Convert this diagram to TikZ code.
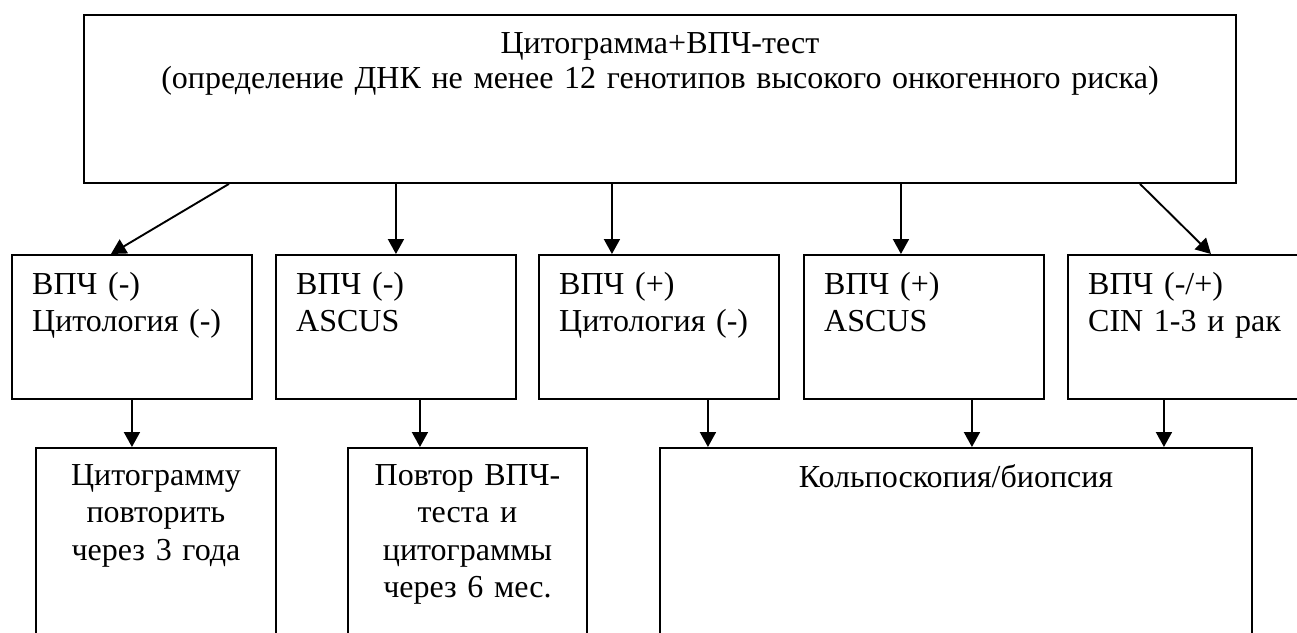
\documentclass[tikz,border=0pt]{standalone}
\usepackage{fontspec}
\setmainfont{Liberation Serif}
\usetikzlibrary{arrows.meta}
\begin{document}
\begin{tikzpicture}[x=1pt,y=-1pt,
  box/.style={draw, line width=1.9pt, rectangle, inner sep=0pt, anchor=north west},
  midbox/.style={box, minimum width=240pt, minimum height=144pt},
  txt/.style={inner sep=0pt, font=\fontsize{32}{37}\selectfont},
  ltxt/.style={txt, text width=225pt, align=left, anchor=base west},
  ctxt/.style={txt, text width=235pt, align=center, anchor=base},
  arr/.style={line width=1.9pt, -{Triangle[length=15pt,width=16pt]}}]
\useasboundingbox (0,0) rectangle (1297,632);
\clip (0,0) rectangle (1297,632);
\fill[white] (0,0) rectangle (1297,632);
% boxes
\node[box, minimum width=1152pt, minimum height=168pt] (top) at (83,14) {};
\node[midbox] (m1) at (11,254) {};
\node[midbox] (m2) at (275,254) {};
\node[midbox] (m3) at (538,254) {};
\node[midbox] (m4) at (803,254) {};
\node[midbox] (m5) at (1067,254) {};
\node[box, minimum width=240pt, minimum height=260pt] (bA) at (35,447) {};
\node[box, minimum width=239pt, minimum height=260pt] (bB) at (347,447) {};
\node[box, minimum width=592pt, minimum height=260pt] (bC) at (659,447) {};
% texts
\node[txt, text width=1100pt, align=center, anchor=base, font=\fontsize{32}{35}\selectfont] (ttop) at ([yshift=-39pt]top.north) {Цитограмма+ВПЧ-тест\\(определение ДНК не менее 12 генотипов высокого онкогенного риска)};
\node[ltxt] (t1) at ([xshift=21pt,yshift=-40pt]m1.north west) {ВПЧ (-)\\Цитология (-)};
\node[ltxt] (t2) at ([xshift=21pt,yshift=-40pt]m2.north west) {ВПЧ (-)\\ASCUS};
\node[ltxt] (t3) at ([xshift=21pt,yshift=-40pt]m3.north west) {ВПЧ (+)\\Цитология (-)};
\node[ltxt] (t4) at ([xshift=21pt,yshift=-40pt]m4.north west) {ВПЧ (+)\\ASCUS};
\node[ltxt] (t5) at ([xshift=21pt,yshift=-40pt]m5.north west) {ВПЧ (-/+)\\CIN 1-3 и рак};
\node[ctxt, font=\fontsize{32}{37.5}\selectfont] (tA) at ([yshift=-38pt]bA.north) {Цитограмму\\повторить\\через 3 года};
\node[ctxt, font=\fontsize{32}{37.5}\selectfont] (tB) at ([yshift=-38pt]bB.north) {Повтор ВПЧ-\\теста и\\цитограммы\\через 6 мес.};
\node[ctxt, text width=560pt] (tC) at ([yshift=-40pt]bC.north) {Кольпоскопия/биопсия};
% arrows from top
\draw[arr] ([xshift=-431pt]top.south) -- ([xshift=-21pt]m1.north);
\draw[arr] ([xshift=-264pt]top.south) -- (m2.north);
\draw[arr] ([xshift=-48pt]top.south) -- ([xshift=-47pt]m3.north);
\draw[arr] ([xshift=241pt]top.south) -- ([xshift=-23pt]m4.north);
\draw[arr] ([xshift=480pt]top.south) -- ([xshift=23pt]m5.north);
% arrows down
\draw[arr] (m1.south) -- ([xshift=-24pt]bA.north);
\draw[arr] ([xshift=24pt]m2.south) -- ([xshift=-47.5pt]bB.north);
\draw[arr] ([xshift=49pt]m3.south) -- ([xshift=-248pt]bC.north);
\draw[arr] ([xshift=48pt]m4.south) -- ([xshift=16pt]bC.north);
\draw[arr] ([xshift=-24pt]m5.south) -- ([xshift=208pt]bC.north);
\end{tikzpicture}
\end{document}
